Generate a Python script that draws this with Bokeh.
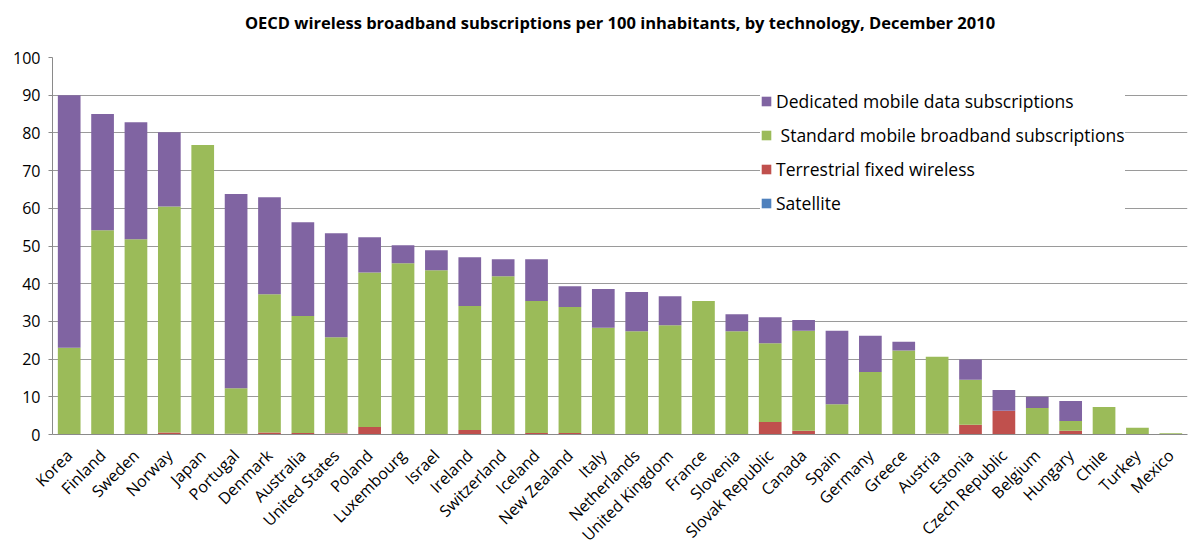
from bokeh.plotting import figure
from bokeh.models import ColumnDataSource, FactorRange, Legend, LegendItem, SingleIntervalTicker, Title
from bokeh.embed import file_html
from bokeh.resources import INLINE
import math

countries = ["Korea", "Finland", "Sweden", "Norway", "Japan", "Portugal", "Denmark", "Australia",
             "United States", "Poland", "Luxembourg", "Israel", "Ireland", "Switzerland", "Iceland",
             "New Zealand", "Italy", "Netherlands", "United Kingdom", "France", "Slovenia",
             "Slovak Republic", "Canada", "Spain", "Germany", "Greece", "Austria", "Estonia",
             "Czech Republic", "Belgium", "Hungary", "Chile", "Turkey", "Mexico"]

satellite = [0.0, 0.0, 0.0, 0.0, 0.0, 0.1, 0.0, 0.0, 0.2, 0.0, 0.0, 0.0, 0.0, 0.0, 0.0,
             0.0, 0.0, 0.0, 0.0, 0.0, 0.0, 0.0, 0.0, 0.0, 0.0, 0.0, 0.0, 0.0,
             0.0, 0.0, 0.0, 0.0, 0.0, 0.0]
terrestrial = [0.0, 0.0, 0.0, 0.5, 0.0, 0.1, 0.5, 0.4, 0.1, 2.0, 0.0, 0.0, 1.2, 0.0, 0.4,
               0.4, 0.0, 0.0, 0.0, 0.0, 0.1, 3.3, 1.0, 0.0, 0.0, 0.0, 0.2, 2.6,
               6.3, 0.0, 1.0, 0.0, 0.0, 0.0]
standard_total = [23.0, 54.2, 51.8, 60.5, 76.8, 12.3, 37.2, 31.4, 25.8, 43.0, 45.4, 43.6, 34.1, 42.0, 35.4,
                  33.8, 28.3, 27.4, 29.0, 35.4, 27.4, 24.2, 27.5, 8.0, 16.6, 22.3, 20.6, 14.5,
                  6.3, 7.0, 3.6, 7.3, 1.8, 0.3]
total = [90.0, 85.0, 82.8, 80.2, 76.8, 63.8, 62.9, 56.3, 53.4, 52.3, 50.2, 48.9, 47.0, 46.5, 46.5,
         39.3, 38.6, 37.8, 36.7, 35.4, 31.9, 31.1, 30.4, 27.5, 26.2, 24.6, 20.6, 19.9,
         11.8, 10.0, 8.9, 7.3, 1.8, 0.3]

# segments: standard = cumulative top minus lower layers; dedicated = total minus standard top
standard = [round(s - t - sa, 2) for s, t, sa in zip(standard_total, terrestrial, satellite)]
dedicated = [round(tt - s, 2) for tt, s in zip(total, standard_total)]

title_text = "OECD wireless broadband subscriptions per 100 inhabitants, by technology, December 2010"
series_labels = ["Satellite", "Terrestrial fixed wireless", " Standard mobile broadband subscriptions",
                 "Dedicated mobile data subscriptions"]
colors = ["#4F81BD", "#C0504D", "#9BBB59", "#8064A2"]
keys = ["satellite", "terrestrial", "standard", "dedicated"]

source = ColumnDataSource(dict(country=countries, satellite=satellite, terrestrial=terrestrial,
                               standard=standard, dedicated=dedicated))

FONT = "Open Sans"

p = figure(x_range=FactorRange(*countries), y_range=(0, 100), width=1191, height=556,
           output_backend="svg", toolbar_location=None,
           min_border_left=52, min_border_right=4, min_border_top=57, min_border_bottom=122)

renderers = p.vbar_stack(keys, x="country", width=0.68, color=colors, source=source, line_color=None)

# blank spacer title next to the frame, then the real title further up
spacer = Title(text=" ", text_font=FONT, text_font_size="10px", standoff=8)
main_title = Title(text=title_text, align="center", text_font=FONT, text_font_style="bold",
                   text_font_size="16.5px", text_color="#000000", standoff=0, offset=-42)
p.add_layout(spacer, "above")
p.add_layout(main_title, "above")

p.xgrid.grid_line_color = None
p.ygrid.grid_line_color = "#9a9a9a"
p.ygrid.grid_line_width = 1
p.yaxis.ticker = SingleIntervalTicker(interval=10)
p.yaxis.major_label_text_font = FONT
p.yaxis.major_label_text_font_size = "16px"
p.yaxis.major_label_text_color = "#000000"
p.yaxis.axis_line_color = "#8a8a8a"
p.yaxis.major_tick_line_color = "#8a8a8a"
p.yaxis.major_tick_out = 4
p.yaxis.major_tick_in = 0
p.yaxis.minor_tick_line_color = None
p.yaxis.major_label_standoff = 8

p.xaxis.major_label_orientation = math.pi / 4
p.xaxis.major_label_text_font = FONT
p.xaxis.major_label_text_font_size = "16px"
p.xaxis.major_label_text_color = "#000000"
p.xaxis.axis_line_color = "#8a8a8a"
p.xaxis.major_tick_line_color = None
p.xaxis.major_label_standoff = 12

p.outline_line_color = None

items = [LegendItem(label=series_labels[i], renderers=[renderers[i]]) for i in [3, 2, 1, 0]]
legend = Legend(items=items, location=(708, 219), orientation="vertical")
legend.margin = 0
legend.border_line_color = None
legend.background_fill_color = "white"
legend.background_fill_alpha = 1.0
legend.label_text_font = FONT
legend.label_text_font_size = "17.5px"
legend.label_text_color = "#000000"
legend.glyph_width = 12
legend.glyph_height = 12
legend.label_height = 20
legend.spacing = 10
legend.padding = 10
legend.label_standoff = 4
p.add_layout(legend)

open("out.html", "w").write(file_html(p, INLINE))
